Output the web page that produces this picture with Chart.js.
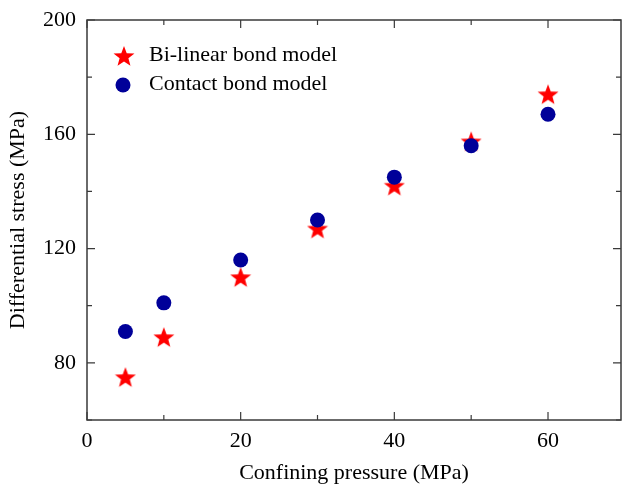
<!DOCTYPE html>
<html>
<head>
<meta charset="utf-8">
<script src="https://cdn.jsdelivr.net/npm/chart.js@4.4.1/dist/chart.umd.min.js"></script>
<style>
  html, body { margin: 0; padding: 0; background: #fff; }
  #wrap { width: 622px; height: 486px; }
</style>
</head>
<body>
<div id="wrap"><canvas id="chart"></canvas></div>
<script>
// data
const pressures = [5, 10, 20, 30, 40, 50, 60];
const bilinearStress = [75, 89, 110, 127, 142, 157.5, 174];
const contactStress = [91, 101, 116, 130, 145, 156, 167];
const seriesNames = ['Bi-linear bond model', 'Contact bond model'];
const xTicks = [0, 20, 40, 60];
const yTicks = [80, 120, 160, 200];

const FONT = '"Liberation Serif", "Times New Roman", serif';
const RED = '#ff0000';
const BLUE = '#000099';
const AXIS = '#3a3a3a';
const X_MAX = 69.5;

// filled five-point star used as point style
function makeStar(size, color) {
  const c = document.createElement('canvas');
  c.width = size; c.height = size;
  const g = c.getContext('2d');
  const cx = size / 2, cy = size / 2 + size * 0.04;
  const outer = size / 2, inner = outer * 0.42;
  g.beginPath();
  for (let i = 0; i < 10; i++) {
    const r = i % 2 === 0 ? outer : inner;
    const a = -Math.PI / 2 + i * Math.PI / 5;
    const px = cx + r * Math.cos(a), py = cy + r * Math.sin(a);
    if (i === 0) g.moveTo(px, py); else g.lineTo(px, py);
  }
  g.closePath();
  g.fillStyle = color;
  g.fill();
  return c;
}
const star = makeStar(22, RED);

const toPoints = (ys) => pressures.map((x, i) => ({ x: x, y: ys[i] }));

// frame with inward ticks on all four sides + legend inside the plot
const framePlugin = {
  id: 'frame',
  afterDraw(chart) {
    const { ctx, chartArea: a, scales } = chart;
    ctx.save();
    ctx.strokeStyle = AXIS;
    ctx.lineWidth = 1.5;
    ctx.strokeRect(a.left, a.top, a.right - a.left, a.bottom - a.top);

    ctx.lineWidth = 1.2;
    for (let v = 0; v <= X_MAX; v += 10) {
      const px = scales.x.getPixelForValue(v);
      const len = xTicks.includes(v) ? 8 : 5;
      ctx.beginPath();
      ctx.moveTo(px, a.bottom); ctx.lineTo(px, a.bottom - len);
      ctx.moveTo(px, a.top); ctx.lineTo(px, a.top + len);
      ctx.stroke();
    }
    for (let v = 60; v <= 200; v += 20) {
      const py = scales.y.getPixelForValue(v);
      const len = yTicks.includes(v) ? 8 : 5;
      ctx.beginPath();
      ctx.moveTo(a.left, py); ctx.lineTo(a.left + len, py);
      ctx.moveTo(a.right, py); ctx.lineTo(a.right - len, py);
      ctx.stroke();
    }

    // legend
    const lx = a.left + 37, ly = a.top + 36, gap = 29;
    ctx.drawImage(star, lx - 11, ly - 11);
    ctx.fillStyle = BLUE;
    ctx.beginPath();
    ctx.arc(lx - 1, ly + gap, 7.5, 0, Math.PI * 2);
    ctx.fill();
    ctx.fillStyle = '#000';
    ctx.font = '22px ' + FONT;
    ctx.textBaseline = 'middle';
    ctx.fillText(seriesNames[0], lx + 25, ly - 1);
    ctx.fillText(seriesNames[1], lx + 25, ly + gap - 1);
    ctx.restore();
  }
};

new Chart(document.getElementById('chart'), {
  type: 'scatter',
  data: {
    datasets: [
      {
        label: seriesNames[1],
        data: toPoints(contactStress),
        pointStyle: 'circle',
        pointRadius: 7.5,
        backgroundColor: BLUE,
        borderWidth: 0
      },
      {
        label: seriesNames[0],
        data: toPoints(bilinearStress),
        pointStyle: star,
        backgroundColor: RED,
        borderWidth: 0
      }
    ]
  },
  options: {
    responsive: true,
    maintainAspectRatio: false,
    animation: false,
    layout: { autoPadding: false, padding: { left: 0, top: 20, right: 1, bottom: 0 } },
    plugins: {
      legend: { display: false },
      tooltip: { enabled: false }
    },
    scales: {
      x: {
        type: 'linear',
        min: 0, max: X_MAX,
        grid: { display: false, drawTicks: false },
        border: { display: false },
        ticks: {
          stepSize: 10,
          includeBounds: false,
          padding: 8,
          color: '#000',
          font: { family: FONT, size: 22 },
          callback: (v) => xTicks.includes(v) ? String(v) : ''
        },
        title: {
          display: true,
          text: 'Confining pressure (MPa)',
          color: '#000',
          font: { family: FONT, size: 22 },
          padding: { top: 4, bottom: 0 }
        },
        afterFit: (s) => { s.height = 66; s.paddingRight = 0; s.paddingLeft = 0; }
      },
      y: {
        min: 60, max: 200,
        grid: { display: false, drawTicks: false },
        border: { display: false },
        ticks: {
          stepSize: 20,
          padding: 11,
          color: '#000',
          font: { family: FONT, size: 22 },
          callback: (v) => yTicks.includes(v) ? String(v) : ''
        },
        title: {
          display: true,
          text: 'Differential stress (MPa)',
          color: '#000',
          font: { family: FONT, size: 22 },
          padding: { top: 5, bottom: 0 }
        },
        afterFit: (s) => { s.width = 87; s.paddingTop = 0; s.paddingBottom = 0; }
      }
    }
  },
  plugins: [framePlugin]
});
</script>
</body>
</html>
